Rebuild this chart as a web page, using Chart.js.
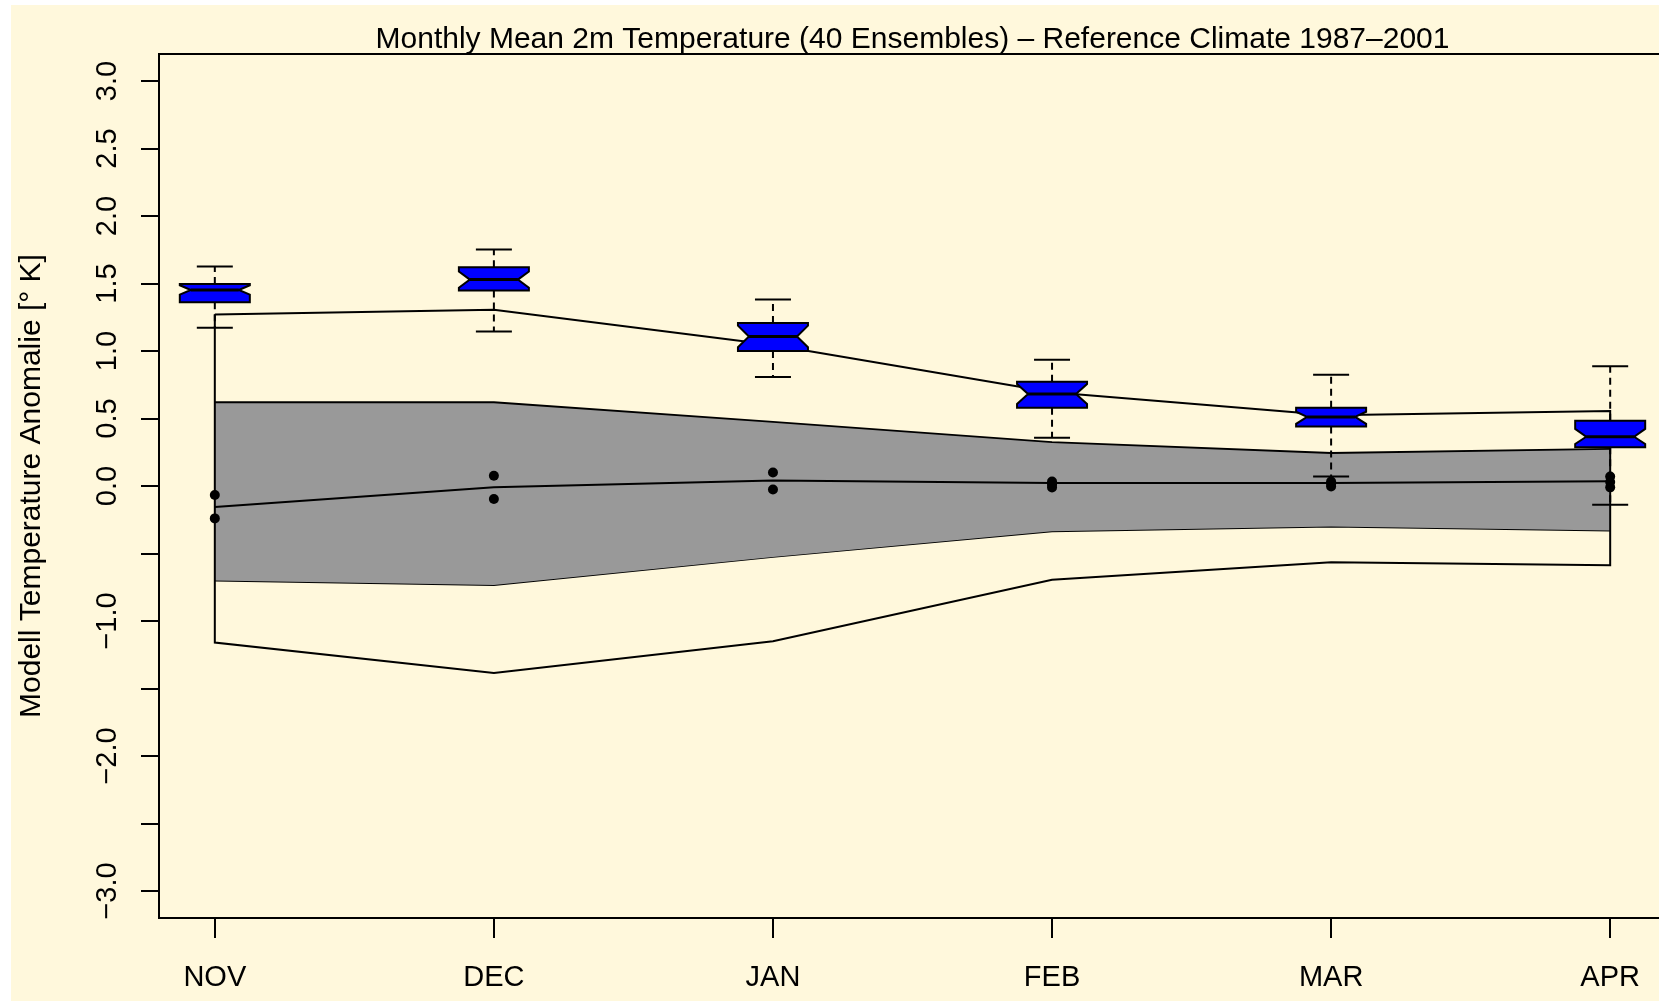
<!DOCTYPE html>
<html>
<head>
<meta charset="utf-8">
<script src="https://cdn.jsdelivr.net/npm/chart.js@4.4.1/dist/chart.umd.min.js"></script>
<style>
  html, body { margin: 0; padding: 0; background: #ffffff; overflow: hidden; }
  #wrap { position: absolute; left: 0; top: 0; width: 1700px; height: 1001px; }
</style>
</head>
<body>
<div id="wrap"><canvas id="c" width="1700" height="1001"></canvas></div>
<script>
// ---------------- DATA ----------------
const titleText = 'Monthly Mean 2m Temperature (40 Ensembles) \u2013 Reference Climate 1987\u20132001';
const yAxisTitle = 'Modell Temperature Anomalie [\u00b0 K]';
const months = ['NOV', 'DEC', 'JAN', 'FEB', 'MAR', 'APR'];
const monthPos = [1, 2, 3, 4, 5, 6];

const yTickValues = [-3, -2.5, -2, -1.5, -1, -0.5, 0, 0.5, 1, 1.5, 2, 2.5, 3];
const yTickLabels = ['\u22123.0', '', '\u22122.0', '', '\u22121.0', '', '0.0', '0.5', '1.0', '1.5', '2.0', '2.5', '3.0'];

// grey band (inner range)
const bandUpper = [0.62, 0.62, 0.475, 0.325, 0.245, 0.275];
const bandLower = [-0.70, -0.733, -0.525, -0.335, -0.30, -0.33];
// outer envelope (closed outline)
const envUpper = [1.27, 1.305, 1.045, 0.695, 0.525, 0.555];
const envLower = [-1.16, -1.385, -1.15, -0.695, -0.565, -0.587];
// middle line
const meanLine = [-0.155, -0.01, 0.04, 0.022, 0.022, 0.035];

// black dots
const dotMonth = [1, 1, 2, 2, 3, 3, 4, 4, 4, 5, 5, 5, 6, 6, 6];
const dotValue = [-0.067, -0.24, 0.076, -0.096, 0.10, -0.026, 0.033, 0.01, -0.011, 0.033, 0.015, -0.004, 0.07, 0.03, -0.01];

// notched box plots
const boxMax   = [1.626, 1.752, 1.381, 0.936, 0.825, 0.887];
const boxQ3    = [1.497, 1.621, 1.208, 0.773, 0.580, 0.484];
const boxMed   = [1.452, 1.529, 1.107, 0.682, 0.512, 0.365];
const boxQ1    = [1.362, 1.448, 1.000, 0.580, 0.440, 0.287];
const boxMin   = [1.173, 1.144, 0.808, 0.358, 0.070, -0.139];
const notchHi  = [1.487, 1.589, 1.188, 0.756, 0.550, 0.423];
const notchLo  = [1.417, 1.469, 1.028, 0.608, 0.460, 0.311];

// ---------------- STYLE ----------------
const CREAM = '#FFF8DC';
const GREY = '#999999';
const BLUE = '#0000FF';
const FONT = '"Liberation Sans", Arial, Helvetica, sans-serif';

const xy = (xs, ys) => xs.map((x, i) => ({ x: x, y: ys[i] }));
const envelope = xy(monthPos, envUpper)
  .concat(xy(monthPos.slice().reverse(), envLower.slice().reverse()))
  .concat([{ x: monthPos[0], y: envUpper[0] }]);

const bgPlugin = {
  id: 'bg',
  beforeDraw(chart) {
    const ctx = chart.ctx;
    ctx.save();
    ctx.fillStyle = '#ffffff';
    ctx.fillRect(0, 0, chart.width, chart.height);
    ctx.fillStyle = CREAM;
    ctx.fillRect(11, 5, chart.width - 11, chart.height - 5);
    ctx.restore();
  }
};

const boxPlugin = {
  id: 'boxes',
  afterDatasetsDraw(chart) {
    const ctx = chart.ctx;
    const xs = chart.scales.x, ys = chart.scales.y;
    const half = 35, cap = 18, inset = 11;
    ctx.save();
    ctx.strokeStyle = '#000';
    ctx.lineWidth = 2;
    for (let i = 0; i < months.length; i++) {
      const cx = xs.getPixelForValue(monthPos[i]);
      const pMax = ys.getPixelForValue(boxMax[i]);
      const pQ3 = ys.getPixelForValue(boxQ3[i]);
      const pMed = ys.getPixelForValue(boxMed[i]);
      const pQ1 = ys.getPixelForValue(boxQ1[i]);
      const pMin = ys.getPixelForValue(boxMin[i]);
      const pNh = ys.getPixelForValue(notchHi[i]);
      const pNl = ys.getPixelForValue(notchLo[i]);
      // whiskers (dashed)
      ctx.setLineDash([7, 5]);
      ctx.beginPath();
      ctx.moveTo(cx, pQ3); ctx.lineTo(cx, pMax);
      ctx.moveTo(cx, pQ1); ctx.lineTo(cx, pMin);
      ctx.stroke();
      ctx.setLineDash([]);
      // caps
      ctx.beginPath();
      ctx.moveTo(cx - cap, pMax); ctx.lineTo(cx + cap, pMax);
      ctx.moveTo(cx - cap, pMin); ctx.lineTo(cx + cap, pMin);
      ctx.stroke();
      // notched box
      ctx.beginPath();
      ctx.moveTo(cx - half, pQ3);
      ctx.lineTo(cx + half, pQ3);
      ctx.lineTo(cx + half, pNh);
      ctx.lineTo(cx + half - inset, pMed);
      ctx.lineTo(cx + half, pNl);
      ctx.lineTo(cx + half, pQ1);
      ctx.lineTo(cx - half, pQ1);
      ctx.lineTo(cx - half, pNl);
      ctx.lineTo(cx - half + inset, pMed);
      ctx.lineTo(cx - half, pNh);
      ctx.closePath();
      ctx.fillStyle = BLUE;
      ctx.fill();
      ctx.stroke();
      // median
      ctx.lineWidth = 3;
      ctx.beginPath();
      ctx.moveTo(cx - half + inset, pMed); ctx.lineTo(cx + half - inset, pMed);
      ctx.stroke();
      ctx.lineWidth = 2;
    }
    ctx.restore();
  }
};

const textPlugin = {
  id: 'texts',
  afterDraw(chart) {
    const ctx = chart.ctx;
    const a = chart.chartArea;
    const xs = chart.scales.x, ys = chart.scales.y;
    ctx.save();
    // frame
    ctx.strokeStyle = '#000';
    ctx.lineWidth = 2;
    ctx.strokeRect(a.left, a.top, a.right - a.left, a.bottom - a.top);
    ctx.fillStyle = '#000';
    // title
    ctx.font = '30px ' + FONT;
    ctx.textAlign = 'center';
    ctx.textBaseline = 'alphabetic';
    ctx.fillText(titleText, (a.left + a.right) / 2, 47.5);
    // x tick labels
    ctx.font = '29px ' + FONT;
    xs.ticks.forEach(t => {
      const idx = monthPos.indexOf(t.value);
      if (idx >= 0) ctx.fillText(months[idx], xs.getPixelForValue(t.value), 986);
    });
    // y tick labels (rotated)
    yTickValues.forEach((v, i) => {
      if (!yTickLabels[i]) return;
      ctx.save();
      ctx.translate(115.5, ys.getPixelForValue(v));
      ctx.rotate(-Math.PI / 2);
      ctx.fillText(yTickLabels[i], 0, 0);
      ctx.restore();
    });
    // y axis title
    ctx.font = '30px ' + FONT;
    ctx.save();
    ctx.translate(40, (a.top + a.bottom) / 2);
    ctx.rotate(-Math.PI / 2);
    ctx.fillText(yAxisTitle, 0, 0);
    ctx.restore();
    ctx.restore();
  }
};

new Chart(document.getElementById('c'), {
  type: 'line',
  data: {
    datasets: [
      { // dots
        data: xy(dotMonth, dotValue), showLine: false,
        pointRadius: 5, pointBackgroundColor: '#000', pointBorderWidth: 0, borderColor: '#000'
      },
      { // middle line
        data: xy(monthPos, meanLine), borderColor: '#000', borderWidth: 2,
        pointRadius: 0, fill: false, tension: 0
      },
      { // envelope outline
        data: envelope, borderColor: '#000', borderWidth: 2,
        pointRadius: 0, fill: false, tension: 0
      },
      { // band upper
        data: xy(monthPos, bandUpper), borderColor: '#000', borderWidth: 2,
        pointRadius: 0, fill: '+1', backgroundColor: GREY, tension: 0
      },
      { // band lower
        data: xy(monthPos, bandLower), borderColor: '#000', borderWidth: 2,
        pointRadius: 0, fill: false, tension: 0
      }
    ]
  },
  options: {
    responsive: false,
    animation: false,
    devicePixelRatio: 1,
    layout: { padding: { left: 141, right: 34, top: 54, bottom: 63 } },
    plugins: { legend: { display: false }, tooltip: { enabled: false }, title: { display: false } },
    scales: {
      x: {
        type: 'linear', min: 0.8, max: 6.2, bounds: 'data',
        afterBuildTicks: s => { s.ticks = monthPos.map(v => ({ value: v })); },
        ticks: { display: false },
        grid: { display: true, drawOnChartArea: false, drawTicks: true, tickLength: 20, color: '#000', lineWidth: 2 },
        border: { display: false }
      },
      y: {
        type: 'linear', min: -3.2, max: 3.2, bounds: 'data',
        afterBuildTicks: s => { s.ticks = yTickValues.map(v => ({ value: v })); },
        ticks: { display: false },
        grid: { display: true, drawOnChartArea: false, drawTicks: true, tickLength: 18, color: '#000', lineWidth: 2 },
        border: { display: false }
      }
    }
  },
  plugins: [bgPlugin, boxPlugin, textPlugin]
});
</script>
</body>
</html>
